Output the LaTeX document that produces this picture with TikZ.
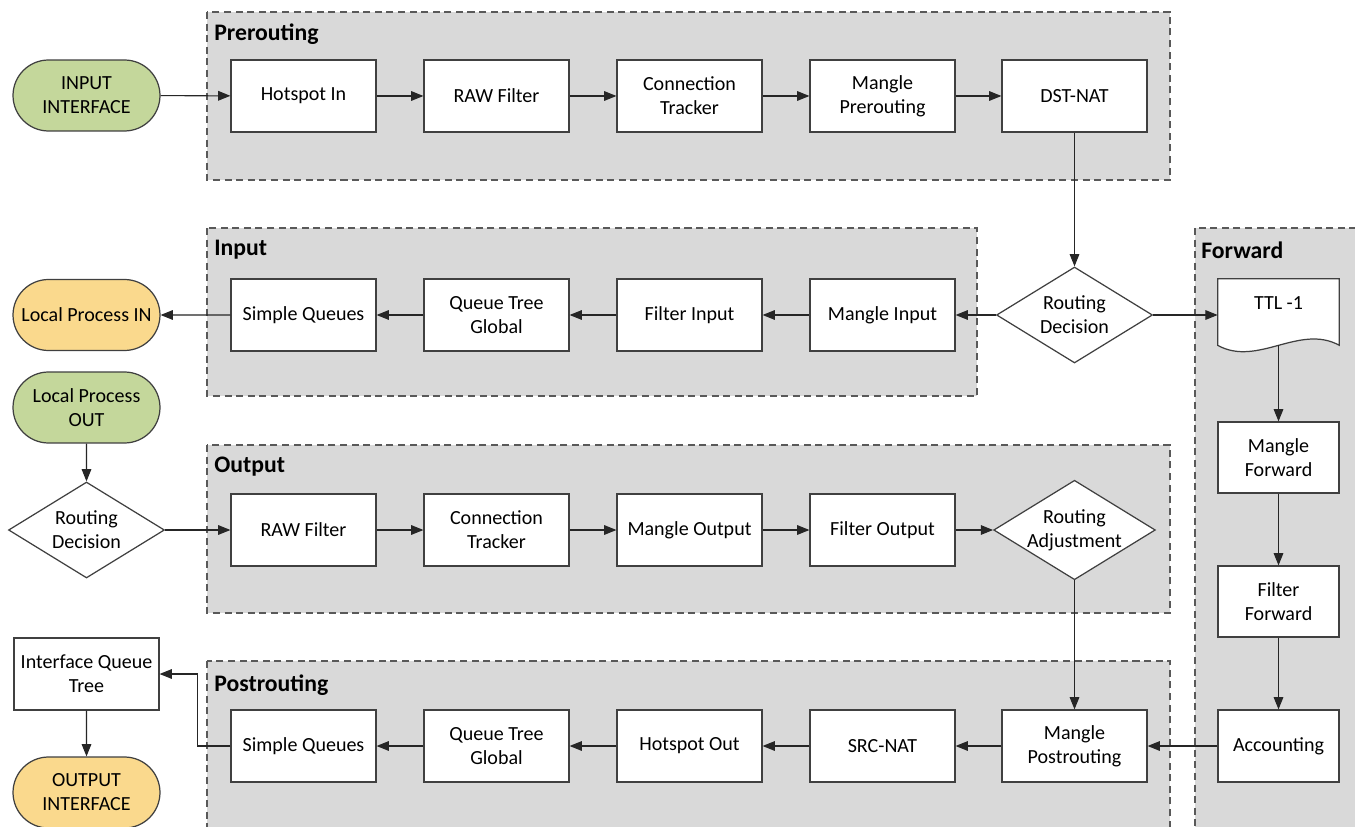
\documentclass[tikz,border=0pt]{standalone}
\usepackage{fontspec}
\setmainfont{Carlito}
\usetikzlibrary{arrows.meta,shapes.geometric,shapes.misc}
\definecolor{grpfill}{HTML}{D9D9D9}
\definecolor{grpline}{HTML}{595959}
\definecolor{boxline}{HTML}{404040}
\definecolor{termgreen}{HTML}{C4D79B}
\definecolor{termyellow}{HTML}{FAD98D}
\tikzset{
  base/.style={font=\fontsize{11.4}{13.6}\selectfont, align=center, inner sep=0pt},
  stepbox/.style={base, draw=boxline, line width=0.7pt, fill=white,
    minimum width=2.9cm, minimum height=1.44cm},
  terminal/.style={base, draw=boxline, line width=0.7pt, rounded rectangle,
    minimum width=2.94cm, minimum height=1.42cm},
  decision/.style={base, draw=boxline, line width=0.7pt, fill=white, diamond,
    aspect=1.625, minimum width=3.12cm, minimum height=1.92cm},
  group/.style={fill=grpfill, draw=grpline, line width=0.9pt, dash pattern=on 4pt off 2.6pt},
  grptitle/.style={font=\fontsize{13.5}{15}\selectfont\bfseries, anchor=west, inner sep=0pt},
  flow/.style={draw=black!85, line width=0.6pt, -{Triangle[length=7pt,width=5.5pt]}},
}
\begin{document}
\begin{tikzpicture}[x=0.02cm, y=-0.02cm]
\clip (0,0) rectangle (1355,827);
\fill[white] (0,0) rectangle (1355,827);

% chain groups
\draw[group] (207,12) rectangle (1170,180);
\draw[group] (207,228) rectangle (977,396);
\draw[group] (1195,228) rectangle (1380,860);
\draw[group] (207,445) rectangle (1170,613);
\draw[group] (207,661) rectangle (1170,860);

\node[grptitle] (tpre)  at (214,34)  {Prerouting};
\node[grptitle] (tin)   at (214,250) {Input};
\node[grptitle] (tfwd)  at (1201,250) {Forward};
\node[grptitle] (tout)  at (214,467) {Output};
\node[grptitle] (tpost) at (214,685) {Postrouting};

% terminals and left-hand column
\node[terminal, fill=termgreen]  (inif)  at (86.5,95.5)  {INPUT\\INTERFACE};
\node[terminal, fill=termyellow] (lpin)  at (86.5,315)   {Local Process IN};
\node[terminal, fill=termgreen]  (lpout) at (86.5,407.5) {Local Process\\OUT};
\node[decision] (rd2) at (86.5,530) {Routing\\Decision};
\node[stepbox] (iqt) at (86.5,674) {Interface Queue\\Tree};
\node[terminal, fill=termyellow] (outif) at (86.5,792.5) {OUTPUT\\INTERFACE};

% prerouting
\node[stepbox] (hsin)   at (303.5,96) {Hotspot In};
\node[stepbox] (rawpre) at (496.5,96) {RAW Filter};
\node[stepbox] (ctpre)  at (689.5,96) {Connection\\Tracker};
\node[stepbox] (mpre)   at (882.5,96) {Mangle\\Prerouting};
\node[stepbox] (dnat)   at (1074.5,96) {DST-NAT};

% input
\node[decision] (rd1) at (1074.5,315) {Routing\\Decision};
\node[stepbox] (min)   at (882.5,315) {Mangle Input};
\node[stepbox] (fin)   at (689.5,315) {Filter Input};
\node[stepbox] (qtin)  at (496.5,315) {Queue Tree\\Global};
\node[stepbox] (sqin)  at (303.5,315) {Simple Queues};

% forward
\node[base, minimum width=2.42cm, minimum height=1.32cm] (ttl) at (1278.5,312) {};
\draw[boxline, line width=0.7pt, fill=white]
  (ttl.south west) -- (ttl.north west) -- (ttl.north east) -- (ttl.south east)
  .. controls +(-40,-22) and +(40,22) .. (ttl.south west) -- cycle;
\node[base] (ttltext) at (1278.5,303) {TTL -1};
\node[stepbox, minimum width=2.42cm, minimum height=1.42cm] (mfwd) at (1278.5,457.5) {Mangle\\Forward};
\node[stepbox, minimum width=2.42cm, minimum height=1.42cm] (ffwd) at (1278.5,601.5) {Filter\\Forward};
\node[stepbox, minimum width=2.42cm, minimum height=1.44cm] (acct) at (1278.5,746) {Accounting};

% output
\node[stepbox] (rawout) at (303.5,530) {RAW Filter};
\node[stepbox] (ctout)  at (496.5,530) {Connection\\Tracker};
\node[stepbox] (mout)   at (689.5,530) {Mangle Output};
\node[stepbox] (fout)   at (882.5,530) {Filter Output};
\node[decision] (radj)  at (1074.5,530) {Routing\\Adjustment};

% postrouting
\node[stepbox] (mpost)  at (1074.5,746) {Mangle\\Postrouting};
\node[stepbox] (snat)   at (882.5,746) {SRC-NAT};
\node[stepbox] (hsout)  at (689.5,746) {Hotspot Out};
\node[stepbox] (qtpost) at (496.5,746) {Queue Tree\\Global};
\node[stepbox] (sqpost) at (303.5,746) {Simple Queues};

% packet flow
\draw[flow] (inif) -- (hsin);
\draw[flow] (hsin) -- (rawpre);
\draw[flow] (rawpre) -- (ctpre);
\draw[flow] (ctpre) -- (mpre);
\draw[flow] (mpre) -- (dnat);
\draw[flow] (dnat) -- (rd1);
\draw[flow] (rd1) -- (min);
\draw[flow] (min) -- (fin);
\draw[flow] (fin) -- (qtin);
\draw[flow] (qtin) -- (sqin);
\draw[flow] (sqin) -- (lpin);
\draw[flow] (rd1.east) -- (rd1.east -| ttl.west);
\draw[flow] (ttl.south) -- (mfwd);
\draw[flow] (mfwd) -- (ffwd);
\draw[flow] (ffwd) -- (acct);
\draw[flow] (acct) -- (mpost);
\draw[flow] (lpout) -- (rd2);
\draw[flow] (rd2) -- (rawout);
\draw[flow] (rawout) -- (ctout);
\draw[flow] (ctout) -- (mout);
\draw[flow] (mout) -- (fout);
\draw[flow] (fout) -- (radj);
\draw[flow] (radj) -- (mpost);
\draw[flow] (mpost) -- (snat);
\draw[flow] (snat) -- (hsout);
\draw[flow] (hsout) -- (qtpost);
\draw[flow] (qtpost) -- (sqpost);
\draw[flow] (sqpost.west) -- ++(-33,0) |- (iqt.east);
\draw[flow] (iqt) -- (outif);
\end{tikzpicture}
\end{document}
